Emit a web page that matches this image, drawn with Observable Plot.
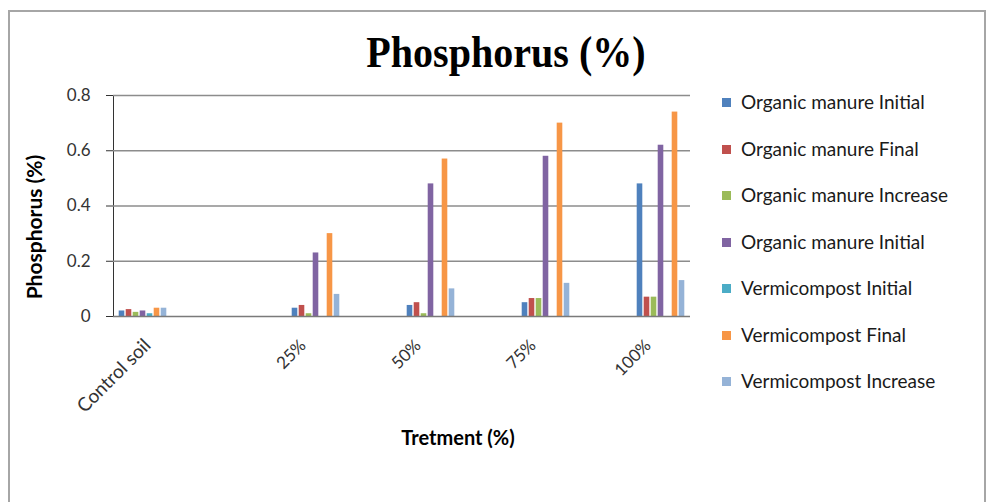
<!DOCTYPE html>
<html><head><meta charset="utf-8">
<script src="https://cdn.jsdelivr.net/npm/d3@7"></script>
<script src="https://cdn.jsdelivr.net/npm/@observablehq/plot@0.6"></script>
<style>
html,body{margin:0;padding:0;background:#fff;}
#wrap{position:relative;width:987px;height:502px;overflow:hidden;font-family:Lato,"Open Sans",sans-serif;color:#1a1a1a;}
#border{position:absolute;left:8px;top:10px;width:978px;height:540px;border:2px solid #a6a6a6;box-sizing:border-box;}
#chart{position:absolute;left:0;top:0;}
#title{position:absolute;left:506px;top:30px;font-family:"Liberation Serif","Times New Roman",serif;font-weight:bold;font-size:45px;line-height:45px;white-space:nowrap;transform:translateX(-50%) scaleX(0.89);color:#000;}
#ylab{position:absolute;left:33px;top:227px;font-weight:bold;font-size:21px;white-space:nowrap;transform:translate(-50%,-50%) rotate(-90deg);color:#000;}
#xlab{position:absolute;left:458px;top:437px;font-weight:bold;font-size:20px;white-space:nowrap;transform:translate(-50%,-50%);color:#000;}
#legend{position:absolute;left:722px;top:0;}
.li{position:absolute;left:0;white-space:nowrap;font-size:19px;line-height:22px;transform:translateY(-50%);}
.sw{display:inline-block;width:9px;height:9px;margin-right:10px;vertical-align:2px;}
</style>
</head><body>
<div id="wrap">
  <div id="border"></div>
  <div id="chart"></div>
  <div id="title">Phosphorus (%)</div>
  <div id="ylab">Phosphorus (%)</div>
  <div id="xlab">Tretment (%)</div>
  <div id="legend"></div>
</div>
<script>
// ---- data ----
const categories = ["Control soil", "25%", "50%", "75%", "100%"];
const seriesNames = [
  "Organic manure Initial",
  "Organic manure Final",
  "Organic manure Increase",
  "Organic manure Initial",
  "Vermicompost Initial",
  "Vermicompost Final",
  "Vermicompost Increase"
];
const organicInitial   = [0.02, 0.03, 0.04, 0.05, 0.48];
const organicFinal     = [0.025, 0.04, 0.05, 0.065, 0.07];
const organicIncrease  = [0.015, 0.01, 0.01, 0.065, 0.07];
const organicInitial2  = [0.02, 0.23, 0.48, 0.58, 0.62];
const vermiInitial     = [0.01, 0, 0, 0, 0];
const vermiFinal       = [0.03, 0.30, 0.57, 0.70, 0.74];
const vermiIncrease    = [0.03, 0.08, 0.10, 0.12, 0.13];
const yTicks = [0, 0.2, 0.4, 0.6, 0.8];

const seriesValues = [organicInitial, organicFinal, organicIncrease, organicInitial2, vermiInitial, vermiFinal, vermiIncrease];
const colors = ["#4F81BD", "#C0504D", "#9BBB59", "#8064A2", "#4BACC6", "#F79646", "#95B3D7"];

const rows = seriesValues.flatMap((vals, i) =>
  categories.map((c, j) => ({series: seriesNames[i], si: i, category: c, value: vals[j]})));

// ---- layout ----
const W = 987, H = 502;
const mL = 113, mR = 297, mT = 95, mB = 186;
const bandW = (W - mL - mR) / categories.length;
const barW = 6, step = 7;
const inset = (bandW - barW) / 2;
const ctrlShift = -29, treatShift = 29;

const barMarks = [];
colors.forEach((col, i) => {
  [["Control soil"], categories.slice(1)].forEach((group, g) => {
    barMarks.push(Plot.barY(rows.filter(r => r.si === i && group.includes(r.category)), {
      x: "category", y: "value", fill: col,
      insetLeft: inset, insetRight: inset,
      dx: (g === 0 ? ctrlShift : treatShift) + (i - 3) * step
    }));
  });
});

const chart = Plot.plot({
  width: W, height: H,
  marginLeft: mL, marginRight: mR, marginTop: mT, marginBottom: mB,
  style: {fontFamily: "Lato, 'Open Sans', sans-serif", fontSize: "17px", color: "#333", background: "transparent", overflow: "visible"},
  x: {type: "band", domain: categories, padding: 0, axis: null},
  y: {domain: [0, 0.8], ticks: yTicks, tickFormat: d => String(d), label: null, tickSize: 7, tickPadding: 16, line: true},
  marks: [
    Plot.ruleY(yTicks.slice(1), {stroke: "#8c8c8c", strokeWidth: 1.3}),
    ...barMarks,
    Plot.ruleY([0], {stroke: "#7a7a7a", strokeWidth: 1.6}),
    Plot.text(categories.slice(0, 1), {x: d => d, frameAnchor: "bottom", text: d => d, rotate: -45, textAnchor: "end", dx: -20, dy: 30, fontSize: 19, fill: "#333"}),
    Plot.text(categories.slice(1), {x: d => d, frameAnchor: "bottom", text: d => d, rotate: -45, textAnchor: "end", dx: 20, dy: 30, fontSize: 17, fill: "#333"})
  ]
});
document.getElementById("chart").appendChild(chart);

// ---- legend ----
const legend = document.getElementById("legend");
const legendY0 = 102, legendStep = 46.5;
seriesNames.forEach((name, i) => {
  const d = document.createElement("div");
  d.className = "li";
  d.style.top = (legendY0 + i * legendStep) + "px";
  d.innerHTML = `<span class="sw" style="background:${colors[i]}"></span>${name}`;
  legend.appendChild(d);
});
</script>
</body></html>
